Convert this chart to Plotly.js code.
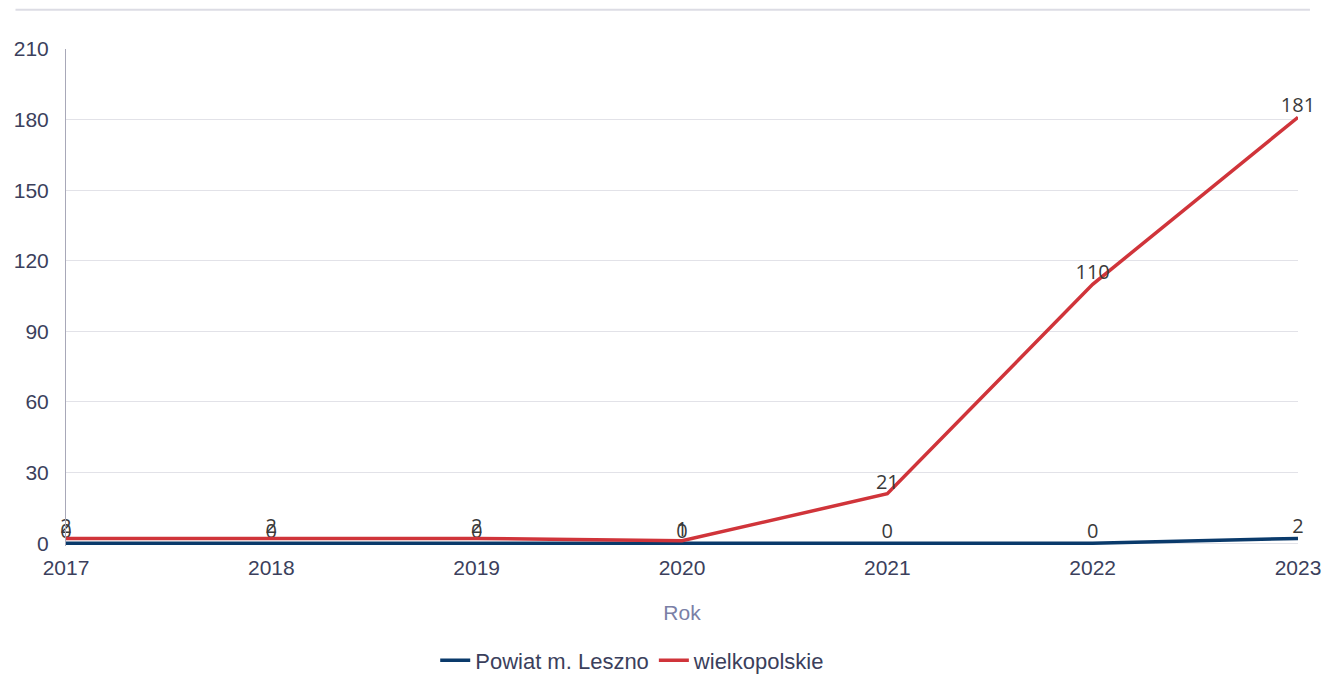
<!DOCTYPE html>
<html>
<head>
<meta charset="utf-8">
<script src="https://cdn.plot.ly/plotly-3.0.1.min.js"></script>
<style>html,body{margin:0;padding:0;background:#fff;}#chart{width:1322px;height:674px;}</style>
</head>
<body>
<div id="chart"></div>
<script>
const years = [2017, 2018, 2019, 2020, 2021, 2022, 2023];
const leszno = [0, 0, 0, 0, 0, 0, 2];
const wielkopolskie = [2, 2, 2, 1, 21, 110, 181];
const seriesNames = ["Powiat m. Leszno", "wielkopolskie"];
const yTicks = [0, 30, 60, 90, 120, 150, 180, 210];

const labelFont = {family: "Open Sans, sans-serif", size: 20, color: "#3a3a3a"};

const traces = [
  {
    x: years, y: leszno, name: seriesNames[0], type: "scatter", mode: "lines+text",
    line: {color: "#0a3a6b", width: 3.5},
    text: leszno.map(String), textposition: "top center", textfont: labelFont,
    cliponaxis: false, hoverinfo: "x+y+name"
  },
  {
    x: years, y: wielkopolskie, name: seriesNames[1], type: "scatter", mode: "lines+text",
    line: {color: "#d0343a", width: 3.5},
    text: wielkopolskie.map(String), textposition: "top center", textfont: labelFont,
    cliponaxis: false, hoverinfo: "x+y+name"
  }
];

const tickFont = {family: "Liberation Sans, Arial, sans-serif", size: 21, color: "#3b3f5c"};

const layout = {
  width: 1322, height: 674,
  margin: {l: 66, r: 24, t: 49, b: 128, autoexpand: false},
  paper_bgcolor: "#ffffff", plot_bgcolor: "#ffffff",
  showlegend: true,
  legend: {
    orientation: "h", x: 0.46, xanchor: "center", yref: "container", y: 0.02, yanchor: "middle",
    font: {family: "Liberation Sans, Arial, sans-serif", size: 22, color: "#3b3f5c"}
  },
  xaxis: {
    range: [2017, 2023], tickvals: years, ticktext: years.map(String),
    showgrid: false, zeroline: false, showline: false, automargin: false,
    tickfont: tickFont, ticks: "", ticklen: 0, ticklabelstandoff: 7,
    title: {text: "Rok", font: {family: "Liberation Sans, Arial, sans-serif", size: 21, color: "#7a7fa6"}, standoff: 27}
  },
  yaxis: {
    range: [-1.2, 210], tickvals: yTicks, ticktext: yTicks.map(String),
    showgrid: true, gridcolor: "#e2e2e8", gridwidth: 1, automargin: false,
    zeroline: false, showline: true, linecolor: "#a8a8b8", linewidth: 1,
    tickfont: tickFont, ticks: "", ticklen: 0, ticklabelstandoff: 12
  },
  shapes: [
    {type: "line", xref: "paper", yref: "paper", x0: -0.041, x1: 1.0097, y0: 1.079, y1: 1.079,
     line: {color: "#dcdce4", width: 2}}
  ]
};

Plotly.newPlot("chart", traces, layout, {displayModeBar: false, responsive: false});
</script>
</body>
</html>
